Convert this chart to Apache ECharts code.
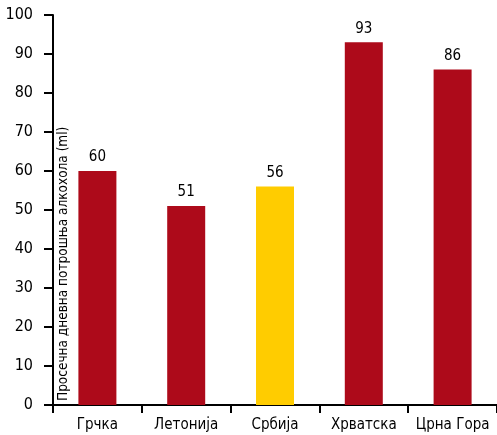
<!DOCTYPE html>
<html><head><meta charset="utf-8">
<script src="https://cdn.jsdelivr.net/npm/echarts@6/dist/echarts.min.js"></script>
<style>html,body{margin:0;padding:0;background:#fff}#c{width:497px;height:435px}</style>
</head><body><div id="c"></div>
<script>
const categories = ['Грчка', 'Летонија', 'Србија', 'Хрватска', 'Црна Гора'];
const values = [60, 51, 56, 93, 86];
const highlight = 'Србија';
const yTicks = [0, 10, 20, 30, 40, 50, 60, 70, 80, 90, 100];
const yTitle = 'Просечна дневна потрошња алкохола (ml)';

const FONT = '"Liberation Sans Narrow", "DejaVu Sans Condensed", sans-serif';
const chart = echarts.init(document.getElementById('c'), null, {renderer: 'canvas'});
chart.setOption({
  animation: false,
  grid: {left: 53, right: 0, top: 15, bottom: 30},
  xAxis: {
    type: 'category', data: categories,
    axisLine: {lineStyle: {color: '#000', width: 2}},
    axisTick: {show: true, interval: 0, length: 8, lineStyle: {color: '#000', width: 2}, alignWithLabel: false},
    axisLabel: {interval: 0, color: '#000', fontSize: 15, fontFamily: FONT, margin: 13}
  },
  yAxis: {
    type: 'value', min: yTicks[0], max: yTicks[yTicks.length - 1], interval: 10,
    axisLine: {show: true, lineStyle: {color: '#000', width: 2}},
    axisTick: {show: true, length: 9, lineStyle: {color: '#000', width: 2}},
    splitLine: {show: false},
    axisLabel: {color: '#000', fontSize: 16, fontFamily: FONT, margin: 20}
  },
  graphic: [{
    type: 'text', x: 63, y: 401, rotation: Math.PI / 2,
    style: {text: yTitle, fill: '#000', font: '13.5px ' + FONT, textAlign: 'left', textVerticalAlign: 'middle'}
  }, {
    type: 'line', shape: {x1: 44, y1: 405, x2: 54, y2: 405}, style: {stroke: '#000', lineWidth: 2}
  }],
  series: [{
    type: 'bar', barWidth: 38,
    data: values.map((v, i) => ({value: v, itemStyle: {color: categories[i] === highlight ? '#FFCC00' : '#AD0A1A'}})),
    label: {show: true, position: 'top', color: '#000', fontSize: 15, fontFamily: FONT, distance: 6}
  }]
});
</script></body></html>
